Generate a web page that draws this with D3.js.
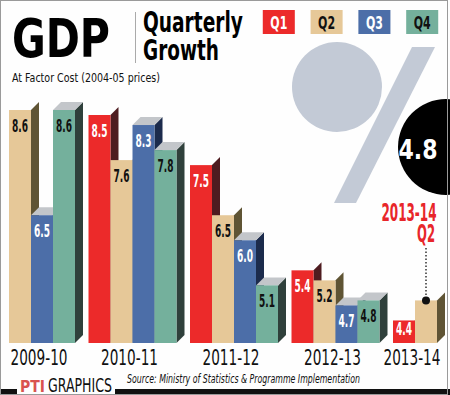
<!DOCTYPE html>
<html>
<head>
<meta charset="utf-8">
<script src="https://cdn.jsdelivr.net/npm/d3@7/dist/d3.min.js"></script>
<style>
html,body{margin:0;padding:0;background:#fff;}
svg{display:block;}
text{font-family:"Liberation Sans Narrow","DejaVu Sans Condensed","Liberation Sans",sans-serif;}
</style>
</head>
<body>
<svg id="chart" width="450" height="395"></svg>
<script>
// ---- data ----
const years = ["2009-10", "2010-11", "2011-12", "2012-13", "2013-14"];
const quarters = ["Q1", "Q2", "Q3", "Q4"];
const q1 = [null, 8.5, 7.5, 5.4, 4.4];
const q2 = [8.6, 7.6, 6.5, 5.2, 4.8];
const q3 = [6.5, 8.3, 6.0, 4.7, null];
const q4 = [8.6, 7.8, 5.1, 4.8, null];
const highlightYear = "2013-14";
const highlightQuarter = "Q2";
const highlightValue = "4.8";

const seriesVals = {Q1: q1, Q2: q2, Q3: q3, Q4: q4};
const front = {Q1: "#ec2a2a", Q2: "#e6c898", Q3: "#4c6ea8", Q4: "#74b09c"};
const side  = {Q1: "#4e1c20", Q2: "#5f5434", Q3: "#1c2b4c", Q4: "#2f403b"};
const topC  = {Q1: null, Q2: null, Q3: "#c3c6ca", Q4: "#c3c6ca"};
const labelC = {Q1: "#fff", Q2: "#111", Q3: "#fff", Q4: "#111"};

const svg = d3.select("#chart");
const W = 450, H = 395;
svg.append("rect").attr("x", 0).attr("y", 0).attr("width", W).attr("height", H).attr("fill", "#fefefe");

// ---- scales ----
const y = d3.scaleLinear().domain([3.95, 8.6]).range([343, 110]);
const x0 = d3.scaleBand().domain(years).range([-13, 481]).paddingInner(0.133).paddingOuter(0);
const x1 = d3.scaleBand().domain(quarters).range([0, x0.bandwidth()]);
const dx = 8, dy = 8;

// ---- percent sign background ----
const pct = svg.append("g").attr("fill", "#c3cad6");
pct.append("circle").attr("cx", 337).attr("cy", 87).attr("r", 45);
pct.append("polygon").attr("points", "412,47 435,47 356,203 334,203");

// ---- bars ----
const bars = [];
years.forEach((yr, i) => {
  quarters.forEach(q => {
    const v = seriesVals[q][i];
    if (v != null) bars.push({year: yr, q: q, v: v});
  });
});

const gBars = svg.append("g");
bars.forEach(d => {
  const xa = x0(d.year) + x1(d.q);
  const xb = xa + x1.bandwidth();
  const yt = y(d.v), yb = y(3.95);
  const g = gBars.append("g");
  g.append("polygon")
    .attr("points", [[xb, yt], [xb + dx, yt - dy], [xb + dx, yb - dy], [xb, yb]].map(p => p.join(",")).join(" "))
    .attr("fill", side[d.q]);
  if (topC[d.q]) {
    g.append("polygon")
      .attr("points", [[xa, yt], [xa + dx, yt - dy], [xb + dx, yt - dy], [xb, yt]].map(p => p.join(",")).join(" "))
      .attr("fill", topC[d.q]);
  }
  g.append("rect").attr("x", xa).attr("y", yt).attr("width", xb - xa).attr("height", yb - yt)
    .attr("fill", front[d.q]);
  if (!(d.year === highlightYear && d.q === highlightQuarter)) {
    g.append("text").attr("x", (xa + xb) / 2).attr("y", Math.min(yt + 22, yb - 8))
      .attr("text-anchor", "middle").attr("font-weight", "bold").attr("font-size", 18)
      .attr("textLength", 16).attr("lengthAdjust", "spacingAndGlyphs")
      .attr("fill", labelC[d.q]).text(d3.format(".1f")(d.v));
  }
});

// ---- x axis labels ----
years.forEach(yr => {
  const present = bars.filter(b => b.year === yr);
  const lo = d3.min(present, b => x0(b.year) + x1(b.q));
  const hi = d3.max(present, b => x0(b.year) + x1(b.q) + x1.bandwidth());
  svg.append("text").attr("x", Math.max((lo + hi) / 2 - 3, 37)).attr("y", 365)
    .attr("text-anchor", "middle").attr("font-size", 21).attr("fill", "#111")
    .attr("textLength", 57).attr("lengthAdjust", "spacingAndGlyphs").text(yr);
});

// ---- highlight callout ----
const hb = bars.find(b => b.year === highlightYear && b.q === highlightQuarter);
const hx = x0(hb.year) + x1(hb.q) + x1.bandwidth() / 2;
const hy = y(hb.v);
svg.append("line").attr("x1", hx).attr("x2", hx).attr("y1", 248).attr("y2", hy)
  .attr("stroke", "#111").attr("stroke-width", 1.3).attr("stroke-dasharray", "1.5,2");
svg.append("circle").attr("cx", hx).attr("cy", hy).attr("r", 4).attr("fill", "#111");

svg.append("circle").attr("cx", 446).attr("cy", 147).attr("r", 48).attr("fill", "#000");
svg.append("text").attr("x", 418).attr("y", 159).attr("text-anchor", "middle")
  .attr("font-weight", "bold").attr("font-size", 27).attr("fill", "#fff")
  .attr("textLength", 39).attr("lengthAdjust", "spacingAndGlyphs").text(highlightValue);
svg.append("text").attr("x", 409).attr("y", 221).attr("text-anchor", "middle")
  .attr("font-weight", "bold").attr("font-size", 24).attr("fill", "#e8262a")
  .attr("textLength", 55).attr("lengthAdjust", "spacingAndGlyphs").text(highlightYear);
svg.append("text").attr("x", 426).attr("y", 242).attr("text-anchor", "middle")
  .attr("font-weight", "bold").attr("font-size", 24).attr("fill", "#e8262a")
  .attr("textLength", 18).attr("lengthAdjust", "spacingAndGlyphs").text(highlightQuarter);

// ---- title ----
svg.append("text").attr("x", 12).attr("y", 57).attr("font-weight", "bold").attr("font-size", 54)
  .attr("fill", "#000").attr("textLength", 98).attr("lengthAdjust", "spacingAndGlyphs").text("GDP");
svg.append("line").attr("x1", 135.5).attr("x2", 135.5).attr("y1", 12).attr("y2", 63)
  .attr("stroke", "#aaa").attr("stroke-width", 1);
svg.append("text").attr("x", 143).attr("y", 32).attr("font-weight", "bold").attr("font-size", 29)
  .attr("fill", "#000").attr("textLength", 100).attr("lengthAdjust", "spacingAndGlyphs").text("Quarterly");
svg.append("text").attr("x", 143).attr("y", 60).attr("font-weight", "bold").attr("font-size", 29)
  .attr("fill", "#000").attr("textLength", 76).attr("lengthAdjust", "spacingAndGlyphs").text("Growth");
svg.append("text").attr("x", 12).attr("y", 82).attr("font-size", 13)
  .attr("fill", "#111").attr("textLength", 148).attr("lengthAdjust", "spacingAndGlyphs")
  .text("At Factor Cost (2004-05 prices)");

// ---- legend ----
const lg = d3.scaleBand().domain(quarters).range([258, 443]).paddingInner(0.33).paddingOuter(0.1);
quarters.forEach(q => {
  svg.append("rect").attr("x", lg(q)).attr("y", 10).attr("width", lg.bandwidth()).attr("height", 24)
    .attr("fill", front[q]);
  svg.append("text").attr("x", lg(q) + lg.bandwidth() / 2).attr("y", 29).attr("text-anchor", "middle")
    .attr("font-weight", "bold").attr("font-size", 18).attr("fill", labelC[q])
    .attr("textLength", 17).attr("lengthAdjust", "spacingAndGlyphs").text(q);
});

// ---- footer ----
svg.append("rect").attr("x", 0).attr("y", 389).attr("width", 17).attr("height", 6).attr("fill", "#111");
svg.append("rect").attr("x", 115).attr("y", 389).attr("width", 335).attr("height", 6).attr("fill", "#111");
svg.append("text").attr("x", 20).attr("y", 392).attr("font-weight", "bold").attr("font-size", 15)
  .attr("fill", "#d9534f").attr("textLength", 25).attr("lengthAdjust", "spacingAndGlyphs").text("PTI");
svg.append("text").attr("x", 48).attr("y", 392).attr("font-size", 19).attr("fill", "#111")
  .attr("textLength", 64).attr("lengthAdjust", "spacingAndGlyphs").text("GRAPHICS");
svg.append("text").attr("x", 127).attr("y", 383).attr("font-size", 12.5).attr("font-style", "italic")
  .attr("fill", "#111").attr("textLength", 233).attr("lengthAdjust", "spacingAndGlyphs")
  .text("Source: Ministry of Statistics & Programme Implementation");

// ---- frame ----
svg.append("rect").attr("x", 0.5).attr("y", 0.5).attr("width", 447).attr("height", 394)
  .attr("fill", "none").attr("stroke", "#9a9a9a").attr("stroke-width", 1);
</script>
</body>
</html>
